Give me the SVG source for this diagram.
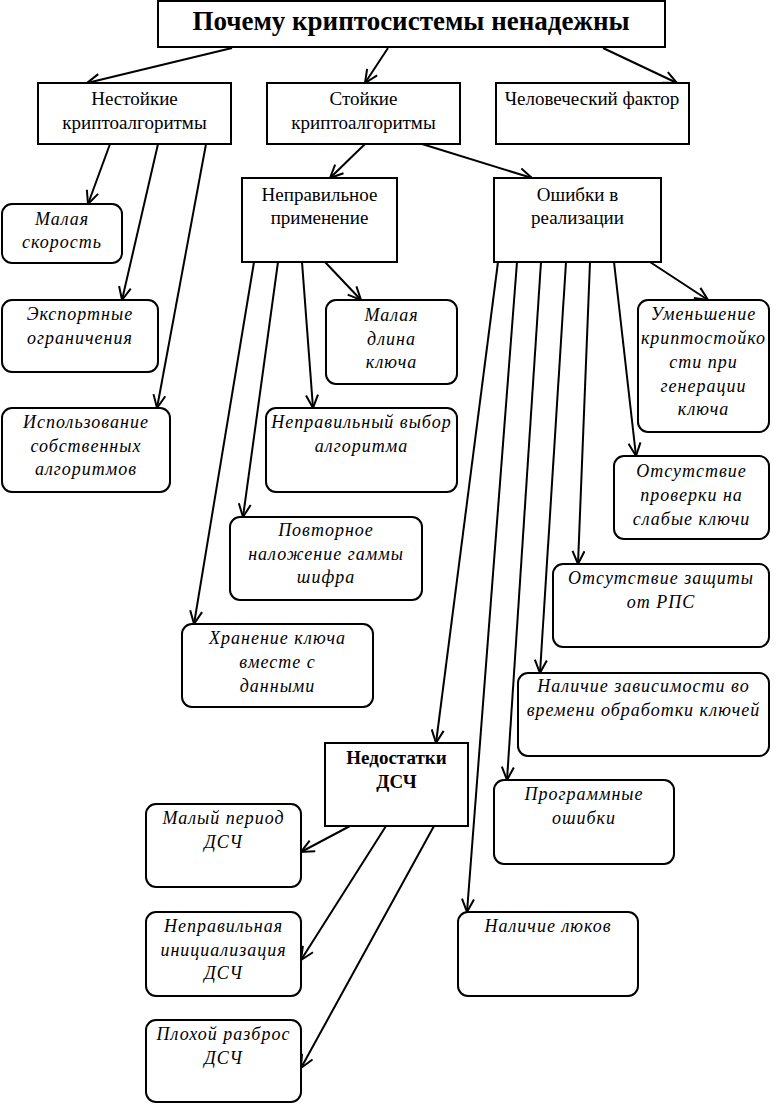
<svg xmlns="http://www.w3.org/2000/svg" width="779" height="1104" viewBox="0 0 779 1104">
<defs>
<marker id="ah" markerUnits="userSpaceOnUse" markerWidth="16" markerHeight="14" refX="14" refY="7" orient="auto">
<path d="M1,1 L14,7 L1,13" fill="none" stroke="#000" stroke-width="2"/>
</marker>
</defs>
<style>
.box{fill:#fff;stroke:#000;stroke-width:2}
.rbox{fill:#fff;stroke:#000;stroke-width:2}
.t{font-family:"Liberation Serif","DejaVu Serif",serif;font-size:19px;text-anchor:middle;fill:#000}
.b{font-weight:bold}
.i{font-family:"Liberation Serif","DejaVu Serif",serif;font-size:18px;font-style:italic;text-anchor:middle;fill:#000;letter-spacing:1px}
.c line{stroke:#000;stroke-width:2;marker-end:url(#ah)}
</style>
<rect width="779" height="1104" fill="#fff"/>
<g class="c" id="connectors">
<line x1="232" y1="48" x2="87" y2="83"/>
<line x1="388" y1="48" x2="365" y2="83"/>
<line x1="603" y1="48" x2="677" y2="83"/>
<line x1="110" y1="144" x2="88" y2="204"/>
<line x1="158" y1="144" x2="122" y2="300"/>
<line x1="206" y1="144" x2="157" y2="408"/>
<line x1="365" y1="144" x2="330" y2="178"/>
<line x1="422" y1="144" x2="532" y2="178"/>
<line x1="254" y1="262" x2="194" y2="624"/>
<line x1="278" y1="262" x2="243" y2="517"/>
<line x1="302" y1="262" x2="313" y2="408"/>
<line x1="325" y1="262" x2="361" y2="300"/>
<line x1="498" y1="262" x2="436" y2="743"/>
<line x1="517" y1="262" x2="467" y2="912"/>
<line x1="541" y1="262" x2="507" y2="780"/>
<line x1="566" y1="262" x2="540" y2="673"/>
<line x1="590" y1="262" x2="578" y2="564"/>
<line x1="614" y1="262" x2="636" y2="456"/>
<line x1="650" y1="262" x2="708" y2="300"/>
<line x1="350" y1="826" x2="301" y2="852"/>
<line x1="386" y1="826" x2="301" y2="960"/>
<line x1="434" y1="826" x2="301" y2="1068"/>
</g>
<g id="title"><rect class="box" x="158" y="1" width="507" height="46"/><text class="t b" x="411" y="30" style="font-size:27px">Почему криптосистемы ненадежны</text></g>
<g id="n1"><rect class="box" x="38" y="83" width="193" height="61"/><text class="t" x="134.5" y="105">Нестойкие</text><text class="t" x="134.5" y="129">криптоалгоритмы</text></g>
<g id="n2"><rect class="box" x="267" y="83" width="193" height="61"/><text class="t" x="363.5" y="105">Стойкие</text><text class="t" x="363.5" y="129">криптоалгоритмы</text></g>
<g id="n3"><rect class="box" x="496" y="83" width="193" height="61"/><text class="t" x="592" y="105">Человеческий фактор</text></g>
<g id="n4"><rect class="box" x="242" y="178" width="155" height="84"/><text class="t" x="319.5" y="201">Неправильное</text><text class="t" x="319.5" y="224">применение</text></g>
<g id="n5"><rect class="box" x="494" y="178" width="167" height="84"/><text class="t" x="577.5" y="201">Ошибки в</text><text class="t" x="577.5" y="224">реализации</text></g>
<g id="r1"><rect class="rbox" x="2" y="204" width="120" height="59" rx="10"/><text class="i" x="62" y="225">Малая</text><text class="i" x="62" y="248">скорость</text></g>
<g id="r2"><rect class="rbox" x="2" y="300" width="156" height="72" rx="10"/><text class="i" x="80" y="320">Экспортные</text><text class="i" x="80" y="344">ограничения</text></g>
<g id="r3"><rect class="rbox" x="2" y="408" width="168" height="84" rx="10"/><text class="i" x="86" y="428">Использование</text><text class="i" x="86" y="452">собственных</text><text class="i" x="86" y="475">алгоритмов</text></g>
<g id="r4"><rect class="rbox" x="326" y="300" width="131" height="84" rx="10"/><text class="i" x="391.5" y="321">Малая</text><text class="i" x="391.5" y="345">длина</text><text class="i" x="391.5" y="368">ключа</text></g>
<g id="r5"><rect class="rbox" x="266" y="408" width="191" height="84" rx="10"/><text class="i" x="361.5" y="428">Неправильный выбор</text><text class="i" x="361.5" y="452">алгоритма</text></g>
<g id="r6"><rect class="rbox" x="230" y="517" width="192" height="83" rx="10"/><text class="i" x="326" y="536">Повторное</text><text class="i" x="326" y="560">наложение гаммы</text><text class="i" x="326" y="583">шифра</text></g>
<g id="r7"><rect class="rbox" x="182" y="624" width="191" height="83" rx="10"/><text class="i" x="277.5" y="644">Хранение ключа</text><text class="i" x="277.5" y="668">вместе с</text><text class="i" x="277.5" y="692">данными</text></g>
<g id="r8"><rect class="rbox" x="638" y="300" width="131" height="132" rx="10"/><text class="i" x="703.5" y="320">Уменьшение</text><text class="i" x="703.5" y="344">криптостойко</text><text class="i" x="703.5" y="368">сти при</text><text class="i" x="703.5" y="392">генерации</text><text class="i" x="703.5" y="415">ключа</text></g>
<g id="r9"><rect class="rbox" x="614" y="456" width="155" height="83" rx="10"/><text class="i" x="691.5" y="477">Отсутствие</text><text class="i" x="691.5" y="501">проверки на</text><text class="i" x="691.5" y="525">слабые ключи</text></g>
<g id="r10"><rect class="rbox" x="553" y="564" width="216" height="83" rx="10"/><text class="i" x="661" y="584">Отсутствие защиты</text><text class="i" x="661" y="608">от РПС</text></g>
<g id="r11"><rect class="rbox" x="518" y="673" width="251" height="83" rx="10"/><text class="i" x="643.5" y="692">Наличие зависимости во</text><text class="i" x="643.5" y="716">времени обработки ключей</text></g>
<g id="n6"><rect class="box" x="325" y="743" width="143" height="83"/><text class="t b" x="396.5" y="764" style="font-weight:600">Недостатки</text><text class="t b" x="396.5" y="788" style="font-weight:600">ДСЧ</text></g>
<g id="r12"><rect class="rbox" x="494" y="780" width="180" height="84" rx="10"/><text class="i" x="584" y="800">Программные</text><text class="i" x="584" y="824">ошибки</text></g>
<g id="r13"><rect class="rbox" x="458" y="912" width="180" height="84" rx="10"/><text class="i" x="548" y="932">Наличие люков</text></g>
<g id="r14"><rect class="rbox" x="146" y="804" width="155" height="83" rx="10"/><text class="i" x="223.5" y="824">Малый период</text><text class="i" x="223.5" y="848">ДСЧ</text></g>
<g id="r15"><rect class="rbox" x="146" y="912" width="155" height="84" rx="10"/><text class="i" x="223.5" y="932">Неправильная</text><text class="i" x="223.5" y="956">инициализация</text><text class="i" x="223.5" y="979">ДСЧ</text></g>
<g id="r16"><rect class="rbox" x="146" y="1020" width="155" height="82" rx="10"/><text class="i" x="223.5" y="1040">Плохой разброс</text><text class="i" x="223.5" y="1064">ДСЧ</text></g>
</svg>
